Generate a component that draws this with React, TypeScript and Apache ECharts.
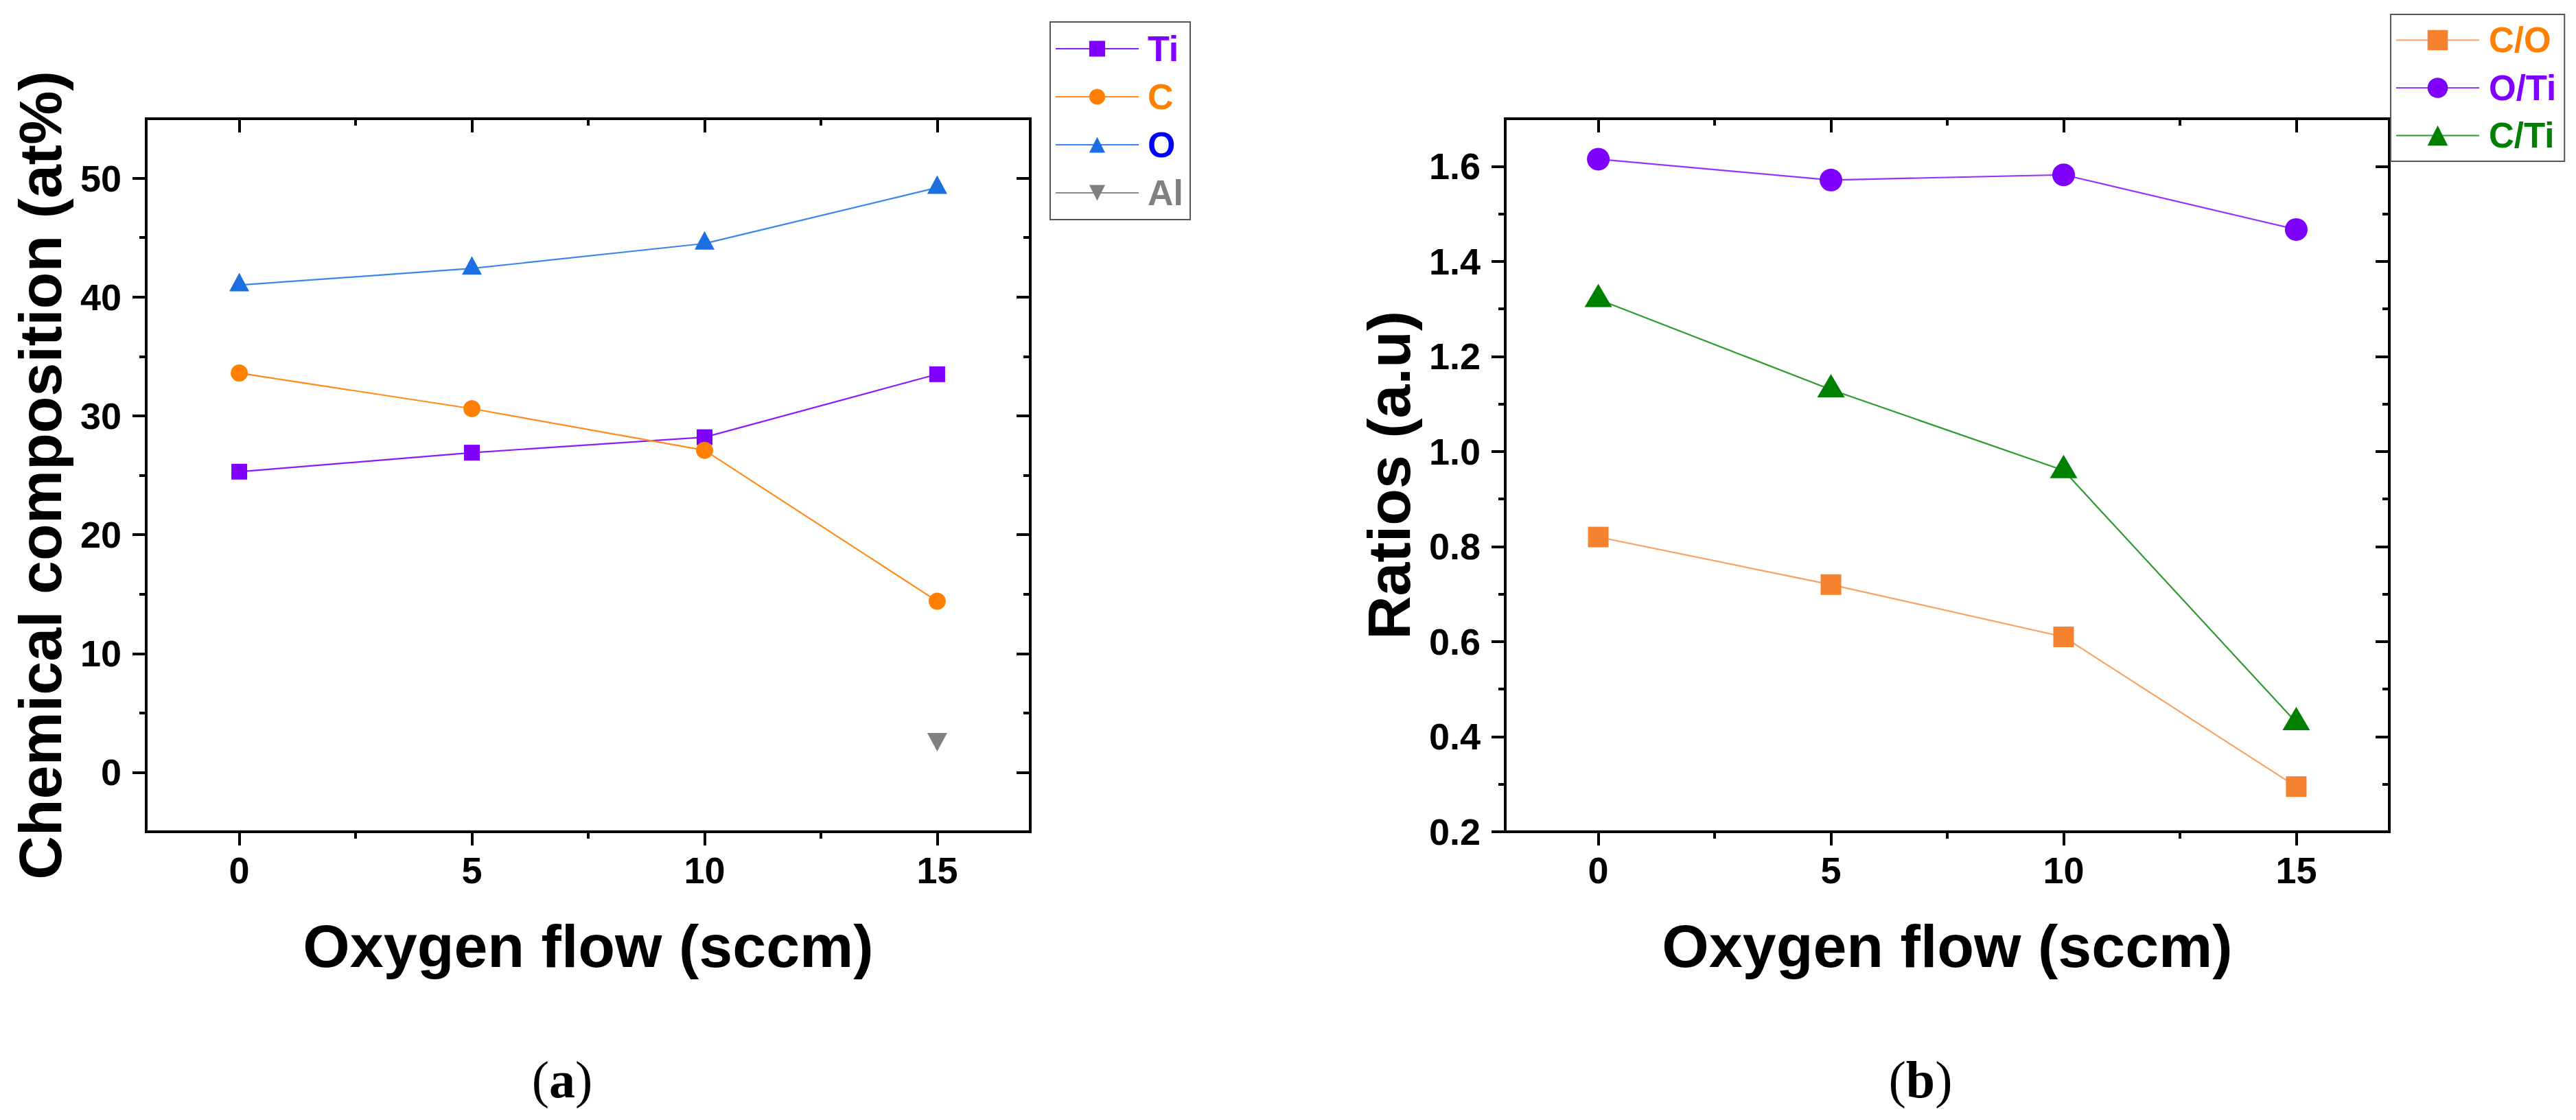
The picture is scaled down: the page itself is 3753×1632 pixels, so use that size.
import React, { useEffect, useRef } from 'react';
import * as echarts from 'echarts';

// oxygen flow, sccm (shared x values of both panels)
const flow = [0, 5, 10, 15];

// (a) chemical composition, at%
const tiAt = [25.3, 26.9, 28.2, 33.5];
const cAt = [33.6, 30.6, 27.1, 14.4];
const oAt = [41.0, 42.4, 44.5, 49.2];
const alAt: (number | null)[] = [null, null, null, 2.8];

// (b) ratios, a.u.
const coRatio = [0.82, 0.72, 0.61, 0.295];
const otiRatio = [1.615, 1.571, 1.582, 1.467];
const ctiRatio = [1.32, 1.13, 0.96, 0.43];

// ticks
const flowMajor = [0, 5, 10, 15];
const flowMinor = [2.5, 7.5, 12.5];
const compMajor = [0, 10, 20, 30, 40, 50];
const compMinor = [5, 15, 25, 35, 45];
const ratioMajor = [0.2, 0.4, 0.6, 0.8, 1.0, 1.2, 1.4, 1.6];
const ratioMinor = [0.3, 0.5, 0.7, 0.9, 1.1, 1.3, 1.5];

const SANS = "'Liberation Sans', Arial, Helvetica, sans-serif";
const SERIF = "'Liberation Serif', 'Times New Roman', serif";
const INK = '#000';

const pairs = (xs: number[], ys: (number | null)[]) =>
  xs.map((x, i) => [x, ys[i]]).filter((p) => p[1] != null);

const tickStyle = { color: INK, width: 4 };
const frameLine = { show: true, onZero: false, lineStyle: { color: INK, width: 4, cap: 'square' } };
const noLine = { show: false, onZero: false };
const labelFont = { color: INK, fontFamily: SANS, fontWeight: 'bold', fontSize: 54, lineHeight: 54 };
const nameFont = { color: INK, fontFamily: SANS, fontWeight: 'bold', fontSize: 88, lineHeight: 88 };

// four x axes per panel: bottom + top frame with major ticks, then minor ticks on both
function xFrame(gridIndex: number, name: string) {
  const base = { type: 'value', gridIndex, min: -2, max: 17, splitLine: { show: false } };
  return [
    {
      ...base, position: 'bottom', axisLine: frameLine,
      axisTick: { show: true, length: 20, customValues: flowMajor, lineStyle: tickStyle },
      axisLabel: { show: true, customValues: flowMajor, margin: 29, ...labelFont },
      name, nameLocation: 'middle', nameGap: 122, nameTextStyle: nameFont, nameMoveOverlap: false,
    },
    {
      ...base, position: 'top', axisLine: frameLine,
      axisTick: { show: true, inside: true, length: 20, customValues: flowMajor, lineStyle: tickStyle },
      axisLabel: { show: false },
    },
    {
      ...base, position: 'bottom', axisLine: noLine,
      axisTick: { show: true, length: 10, customValues: flowMinor, lineStyle: tickStyle },
      axisLabel: { show: false },
    },
    {
      ...base, position: 'top', axisLine: noLine,
      axisTick: { show: true, inside: true, length: 10, customValues: flowMinor, lineStyle: tickStyle },
      axisLabel: { show: false },
    },
  ];
}

function yFrame(
  gridIndex: number, min: number, max: number, major: number[], minor: number[],
  fmt: (v: number) => string, name: string, nameGap: number
) {
  const base = { type: 'value', gridIndex, min, max, splitLine: { show: false } };
  return [
    {
      ...base, position: 'left', axisLine: frameLine,
      axisTick: { show: true, length: 20, customValues: major, lineStyle: tickStyle },
      axisLabel: { show: true, customValues: major, margin: 36, formatter: fmt, ...labelFont },
      name, nameLocation: 'middle', nameRotate: 90, nameGap, nameTextStyle: nameFont, nameMoveOverlap: false,
    },
    {
      ...base, position: 'right', axisLine: frameLine,
      axisTick: { show: true, inside: true, length: 20, customValues: major, lineStyle: tickStyle },
      axisLabel: { show: false },
    },
    {
      ...base, position: 'left', axisLine: noLine,
      axisTick: { show: true, length: 10, customValues: minor, lineStyle: tickStyle },
      axisLabel: { show: false },
    },
    {
      ...base, position: 'right', axisLine: noLine,
      axisTick: { show: true, inside: true, length: 10, customValues: minor, lineStyle: tickStyle },
      axisLabel: { show: false },
    },
  ];
}

const downTriangle = 'path://M0,0L10,0L5,9Z';

function buildOption() {
  const lineSeries = (
    name: string, xi: number, ys: (number | null)[], symbol: string,
    size: number | number[], offset: number[], marker: string, line: string
  ) => ({
    name, type: 'line', xAxisIndex: xi, yAxisIndex: xi,
    data: pairs(flow, ys), symbol, symbolSize: size, symbolOffset: offset,
    itemStyle: { color: marker }, lineStyle: { color: line, width: 2.2 },
    emphasis: { disabled: true },
  });

  const legendBase = {
    orient: 'vertical', align: 'left', itemWidth: 121, selectedMode: false,
    borderColor: '#555', borderWidth: 2, backgroundColor: '#fff',
  };

  return {
    animation: false,
    backgroundColor: '#fff',
    grid: [
      { left: 213, top: 173, width: 1288, height: 1039, outerBoundsMode: 'none' },
      { left: 2193, top: 173, width: 1288, height: 1039, outerBoundsMode: 'none' },
    ],
    xAxis: [...xFrame(0, 'Oxygen flow (sccm)'), ...xFrame(1, 'Oxygen flow (sccm)')],
    yAxis: [
      ...yFrame(0, -5, 55, compMajor, compMinor, (v) => String(v), 'Chemical composition (at%)', 111),
      ...yFrame(1, 0.2, 1.7, ratioMajor, ratioMinor, (v) => v.toFixed(1), 'Ratios (a.u)', 126),
    ],
    legend: [
      {
        ...legendBase, left: 1530, top: 32, itemHeight: 29, itemGap: 18,
        padding: [13, 10, 13, 7],
        textStyle: { fontFamily: SANS, fontWeight: 'bold', fontSize: 52, lineHeight: 50, padding: [0, 0, 0, 8] },
        data: [
          { name: 'Ti', textStyle: { color: '#8000FF' } },
          { name: 'C', textStyle: { color: '#FF8000' } },
          { name: 'O', textStyle: { color: '#0000FF' } },
          { name: 'Al', textStyle: { color: '#808080' } },
        ],
      },
      {
        ...legendBase, left: 3483, top: 21, itemHeight: 37, itemGap: 18.5,
        padding: [12, 12, 12, 7],
        textStyle: { fontFamily: SANS, fontWeight: 'bold', fontSize: 51, lineHeight: 50, padding: [0, 0, 0, 9] },
        data: [
          { name: 'C/O', textStyle: { color: '#FF8000' } },
          { name: 'O/Ti', textStyle: { color: '#8000FF' } },
          { name: 'C/Ti', textStyle: { color: '#008000' } },
        ],
      },
    ],
    series: [
      lineSeries('Ti', 0, tiAt, 'rect', 23, [0, 0], '#8000FF', '#8B1AFF'),
      lineSeries('C', 0, cAt, 'circle', 25, [0, 0], '#FF8000', '#FF8C1A'),
      lineSeries('O', 0, oAt, 'triangle', [29, 27], [0, -4.5], '#1C6FE0', '#3A86EA'),
      lineSeries('Al', 0, alAt, downTriangle, [29, 27], [0, 4.5], '#808080', '#8C8C8C'),
      lineSeries('C/O', 4, coRatio, 'rect', 30, [0, 0], '#F5822E', '#F7A261'),
      lineSeries('O/Ti', 4, otiRatio, 'circle', 33, [0, 0], '#8000FF', '#9233FF'),
      lineSeries('C/Ti', 4, ctiRatio, 'triangle', [40, 34], [0, -5.7], '#008000', '#2E9A2E'),
    ],
    graphic: [
      { label: '(a)', x: 819 },
      { label: '(b)', x: 2798 },
    ].map((c) => ({
      type: 'text', x: c.x, y: 1573, silent: true,
      style: {
        text: `{p|(}{b|${c.label.slice(1, 2)}}{p|)}`,
        align: 'center', verticalAlign: 'middle',
        rich: {
          p: { fontFamily: SERIF, fontSize: 76, fill: INK },
          b: { fontFamily: SERIF, fontSize: 76, fontWeight: 'bold', fill: INK },
        },
      },
    })),
  };
}

export default function App() {
  const ref = useRef<HTMLDivElement>(null);

  useEffect(() => {
    document.body.style.margin = '0';
    if (!ref.current) return;
    const chart = echarts.init(ref.current, null, { renderer: 'svg' });
    chart.setOption(buildOption() as any);
    return () => chart.dispose();
  }, []);

  return <div ref={ref} style={{ width: 3753, height: 1632 }} />;
}
